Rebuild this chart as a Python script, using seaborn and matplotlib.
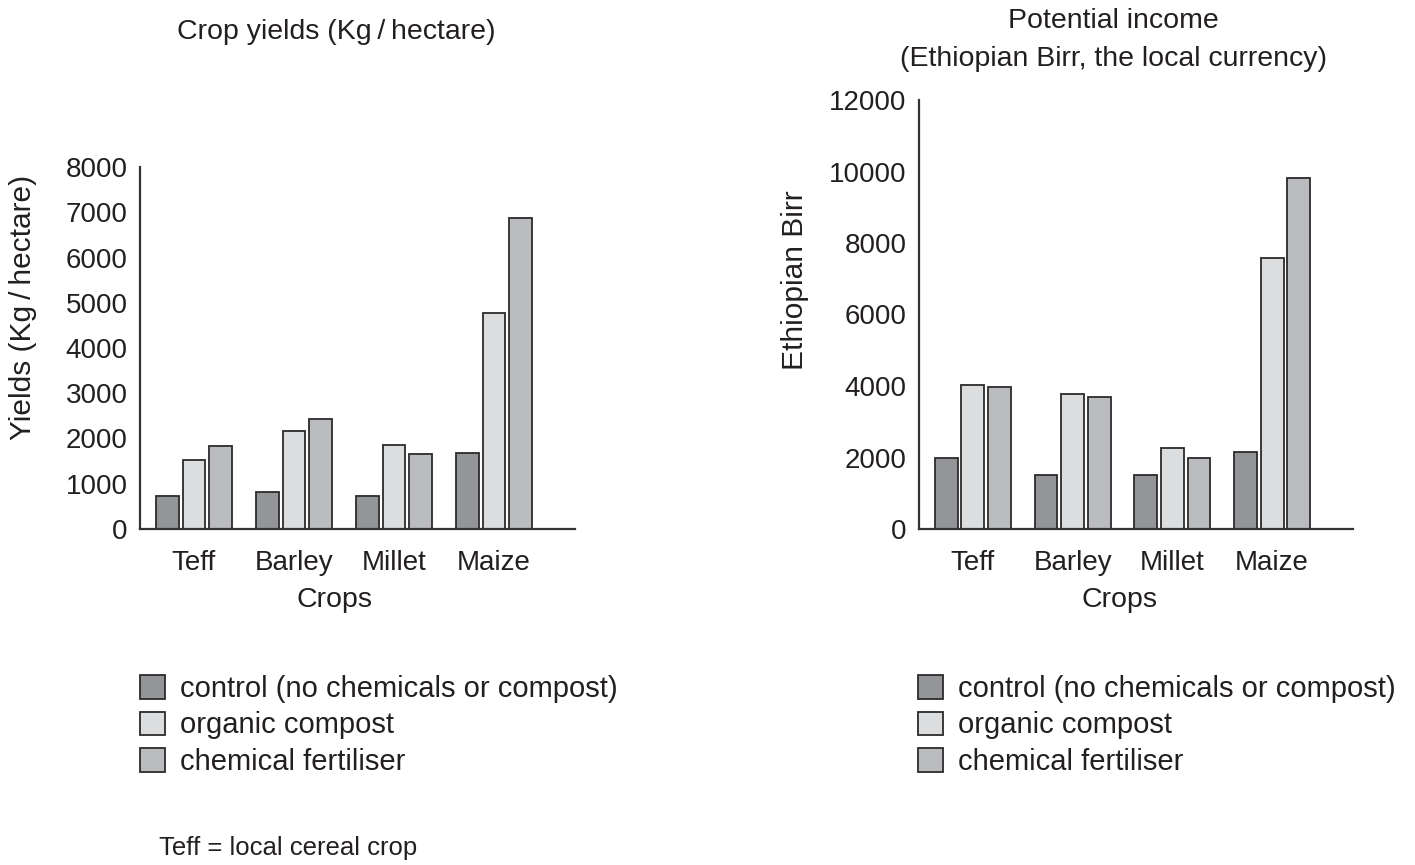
import numpy as np
import pandas as pd
import matplotlib.pyplot as plt
import seaborn as sns

crops = ['Teff', 'Barley', 'Millet', 'Maize']
treatments = ['control (no chemicals or compost)', 'organic compost', 'chemical fertiliser']

# Valores
yield_control = [740, 820, 740, 1680]
yield_organic = [1530, 2170, 1850, 4770]
yield_chemical = [1840, 2420, 1660, 6870]

income_control = [2000, 1500, 1500, 2140]
income_organic = [4030, 3770, 2260, 7570]
income_chemical = [3980, 3690, 2000, 9830]

colors = ['#949598', '#dcdddf', '#bbbcc0']
ink = '#231f20'

sns.set_theme(style='white')
plt.rcParams['font.family'] = ['Liberation Sans', 'DejaVu Sans']
plt.rcParams['text.color'] = ink
plt.rcParams['axes.labelcolor'] = ink
plt.rcParams['xtick.color'] = ink
plt.rcParams['ytick.color'] = ink
fs_tick = 20
fs_xlab = 20.5
fs_ylab = 21.5
fs_leg = 21
fs_title = 20.5
slash = 'Kg\u2009/\u2009hectare'


def long_df(c, o, ch):
    rows = []
    for vals, t in zip([c, o, ch], treatments):
        for crop, v in zip(crops, vals):
            rows.append({'Crop': crop, 'Treatment': t, 'Value': v})
    return pd.DataFrame(rows)


fig = plt.figure(figsize=(14.15, 8.65), dpi=100)
ax1 = fig.add_axes([140 / 1415, 336 / 865, 435 / 1415, 362 / 865])
ax2 = fig.add_axes([919 / 1415, 336 / 865, 434 / 1415, 429 / 865])

panels = [
    (ax1, long_df(yield_control, yield_organic, yield_chemical), 8000, 1000,
     'Yields (' + slash + ')', (0.448, -0.195), (-0.237, 0.613)),
    (ax2, long_df(income_control, income_organic, income_chemical), 12000, 2000,
     'Ethiopian Birr', (0.463, -0.165), (-0.254, 0.580)),
]

for ax, df, ymax, step, ylab, xlab_pos, ylab_pos in panels:
    sns.barplot(data=df, x='Crop', y='Value', hue='Treatment', palette=colors,
                width=0.8, gap=0.14, edgecolor='#2b2b2b', linewidth=1.3,
                saturation=1, ax=ax)
    ax.set_xlim(-0.54, 3.81)
    ax.set_ylim(0, ymax)
    ax.set_yticks(np.arange(0, ymax + 1, step))
    ax.tick_params(axis='both', length=0, labelsize=fs_tick)
    ax.tick_params(axis='x', pad=15)
    ax.tick_params(axis='y', pad=9)
    for s in ['top', 'right']:
        ax.spines[s].set_visible(False)
    for s in ['left', 'bottom']:
        ax.spines[s].set_color('#333333')
        ax.spines[s].set_linewidth(1.6)
    ax.set_xlabel('Crops', fontsize=fs_xlab, va='center')
    ax.set_ylabel(ylab, fontsize=fs_ylab)
    ax.xaxis.set_label_coords(*xlab_pos)
    ax.yaxis.set_label_coords(*ylab_pos)
    handles, labels = ax.get_legend_handles_labels()
    ax.get_legend().remove()

for x0 in [140, 918]:
    fig.legend(handles, labels, loc='upper left', bbox_to_anchor=(x0 / 1415, 1 - 675 / 865),
               frameon=False, fontsize=fs_leg, handlelength=0.86, handleheight=0.86,
               handletextpad=0.51, labelspacing=0.29, borderaxespad=0, borderpad=0)

fig.text(336 / 1415, 1 - 32 / 865, 'Crop yields (' + slash + ')', ha='center', va='center',
         fontsize=fs_title)
fig.text(1113 / 1415, 1 - 40 / 865, 'Potential income\n(Ethiopian Birr, the local currency)',
         ha='center', va='center', fontsize=fs_title, linespacing=1.55)
fig.text(159 / 1415, 1 - 848 / 865, 'Teff = local cereal crop', ha='left', va='center', fontsize=18.5)

plt.savefig('out.png', dpi=100)
